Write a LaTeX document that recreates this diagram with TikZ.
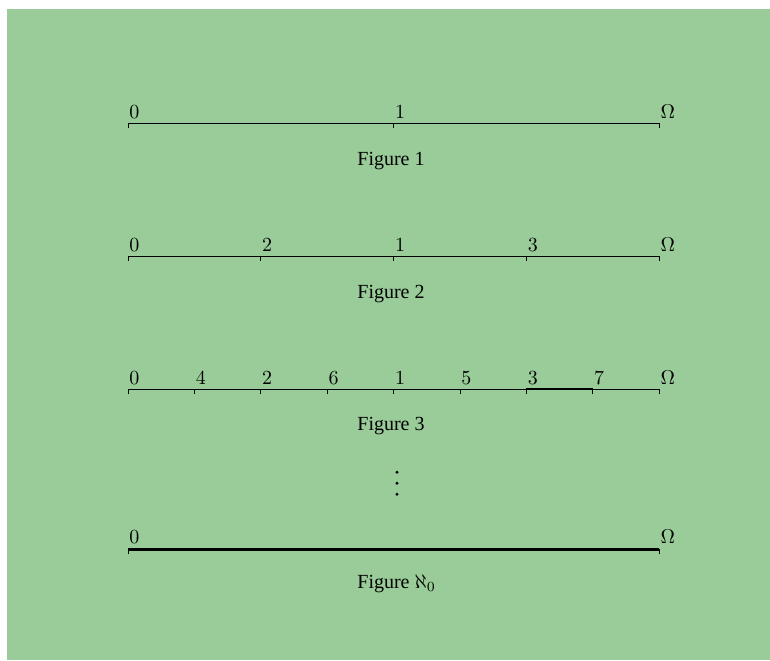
\documentclass[tikz,border=0pt]{standalone}
\usepackage[no-math]{fontspec}
\newfontfamily\capfont{Liberation Serif}
\definecolor{bgreen}{RGB}{153,204,153}
\begin{document}
\begin{tikzpicture}[x=0.5pt,y=-0.5pt,
  lab/.style={anchor=base west, inner sep=0pt},
  figcap/.style={anchor=base west, inner sep=0pt, font=\capfont},
  axis/.style={line width=0.5pt},
  tk/.style={line width=0.5pt},
  thickseg/.style={line width=1pt},
  alephline/.style={line width=1.4pt}]
\useasboundingbox (0,0) rectangle (770,660);
\fill[bgreen] (7,9) rectangle (770,660);
% Figure 1
\foreach \k/\lb in {0/0,4/1,8/\Omega} {
  \coordinate (a\k) at (128+66.4*\k,123.3);
  \draw[tk] (a\k) -- ++(0,5);
  \node[lab] (al\k) at (129+66.4*\k,118) {$\lb$};
}
\draw[axis] (a0) -- (a8);
\node[figcap] (c1) at (357,165) {Figure 1};
% Figure 2
\foreach \k/\lb in {0/0,2/2,4/1,6/3,8/\Omega} {
  \coordinate (b\k) at (128+66.4*\k,256.3);
  \draw[tk] (b\k) -- ++(0,5);
  \node[lab] (bl\k) at (129+66.4*\k,251) {$\lb$};
}
\draw[axis] (b0) -- (b8);
\node[figcap] (c2) at (357,298) {Figure 2};
% Figure 3
\foreach \k/\lb in {0/0,1/4,2/2,3/6,4/1,5/5,6/3,7/7,8/\Omega} {
  \coordinate (d\k) at (128+66.4*\k,389);
  \draw[tk] (d\k) -- ++(0,5);
  \node[lab] (dl\k) at (129+66.4*\k,384) {$\lb$};
}
\draw[axis] (d0) -- (d8);
\draw[thickseg] (d6) -- (d7);
\node[figcap] (c3) at (357,430) {Figure 3};
% dots
\foreach \y in {472.3,483.3,494.3} {
  \fill (397,\y) circle (1.6);
}
% Figure aleph_0
\foreach \k/\lb in {0/0,8/\Omega} {
  \coordinate (e\k) at (128+66.4*\k,549.3);
  \draw[tk] (e\k) -- ++(0,5);
  \node[lab] (el\k) at (129+66.4*\k,543) {$\lb$};
}
\draw[alephline] (e0) -- (e8);
\node[figcap] (c4) at (357,588) {Figure $\aleph_0$};
\end{tikzpicture}
\end{document}
